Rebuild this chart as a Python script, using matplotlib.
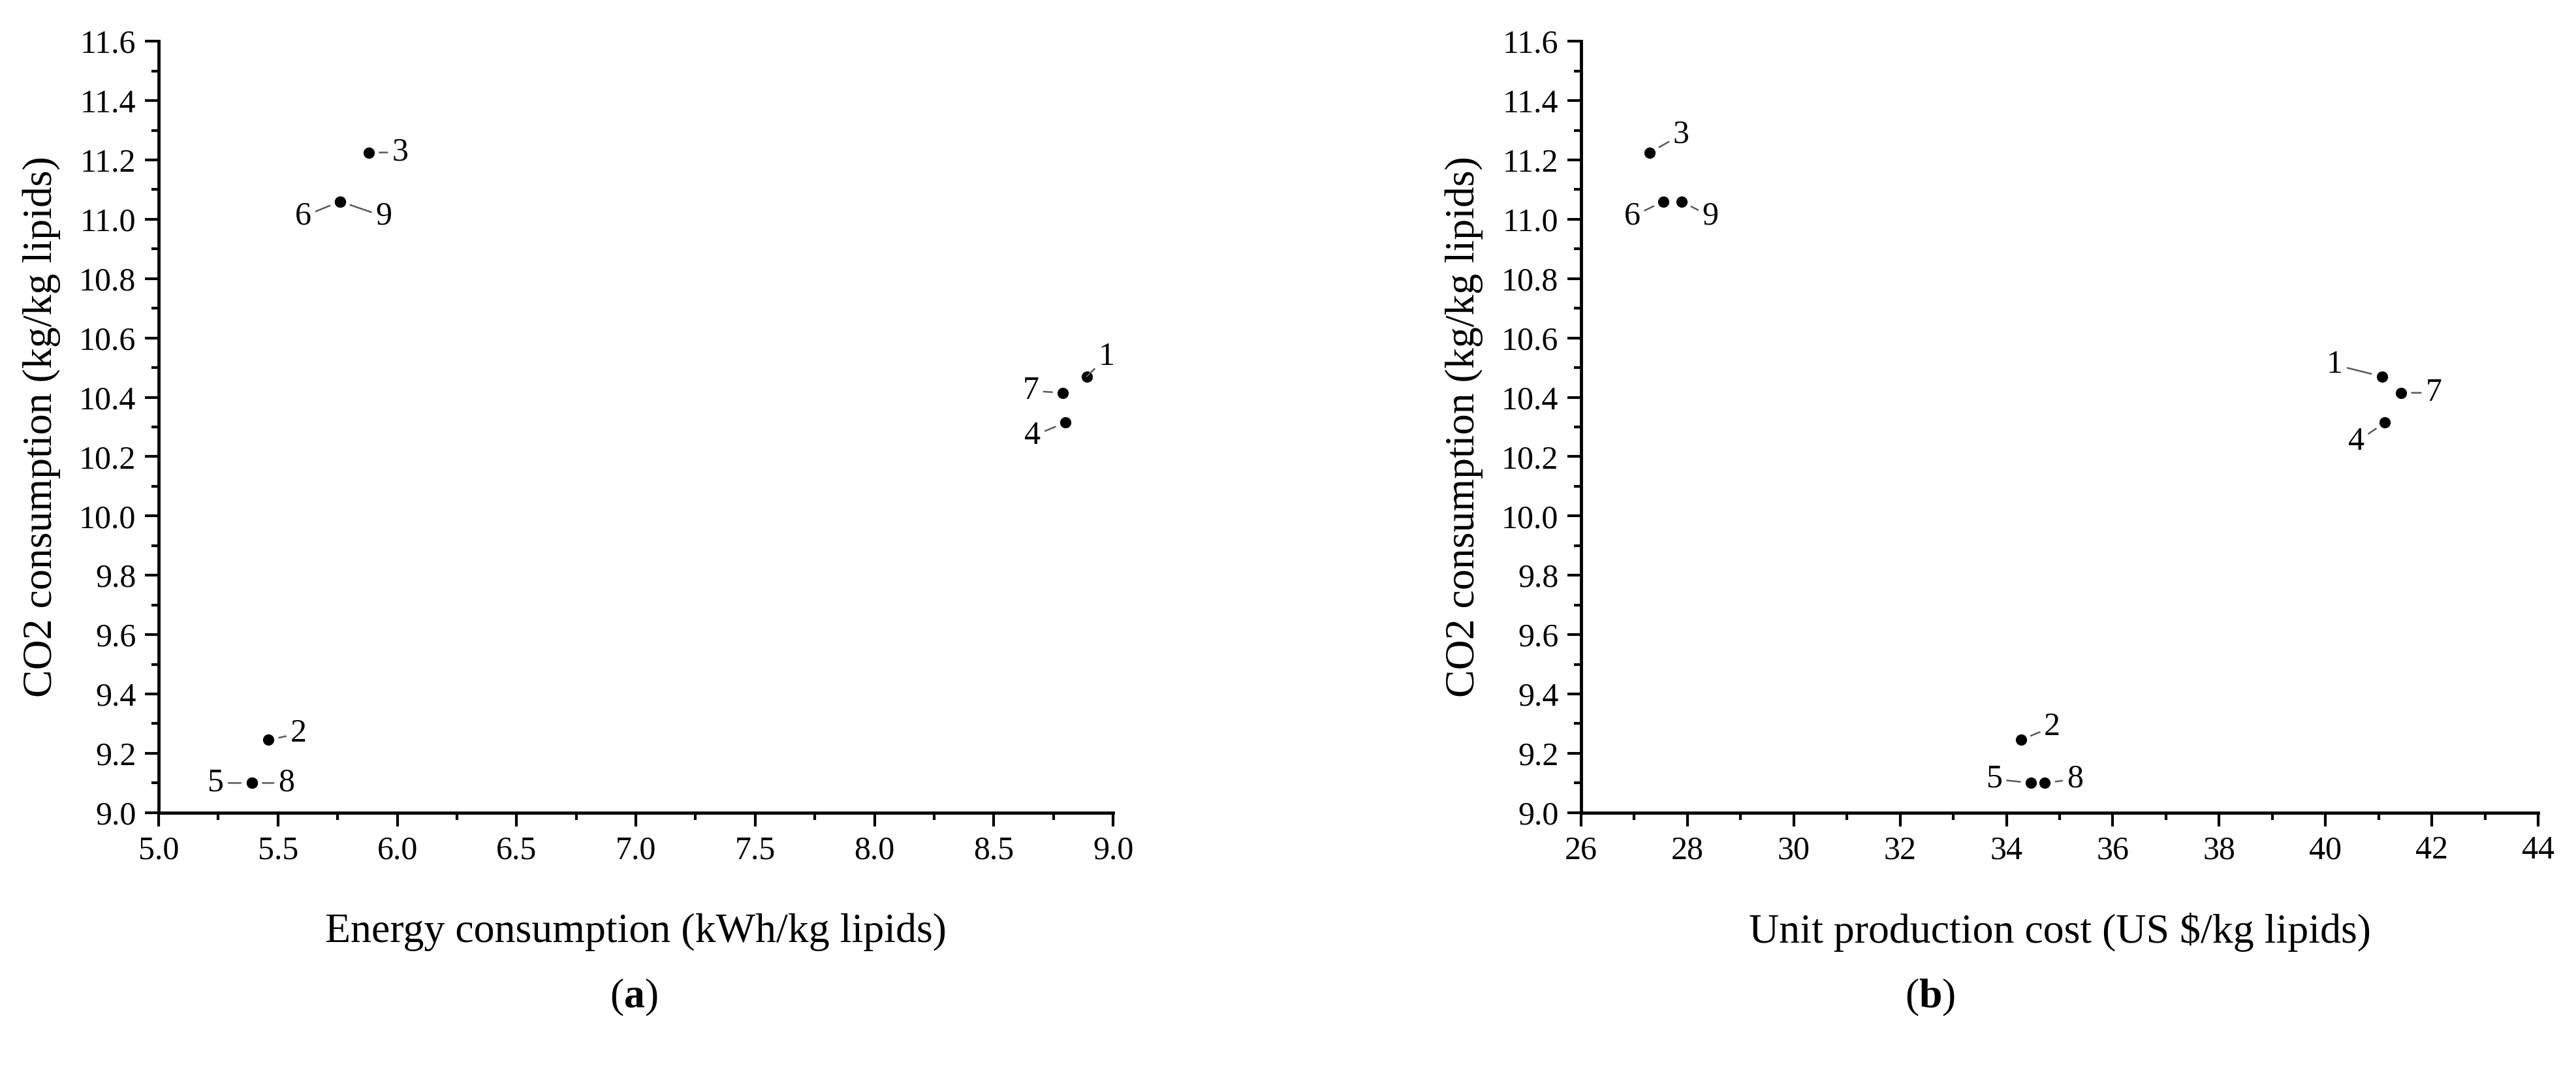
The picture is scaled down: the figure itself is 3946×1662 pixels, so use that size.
import matplotlib
matplotlib.use('Agg')
import matplotlib.pyplot as plt
from matplotlib.ticker import MultipleLocator

plt.rcParams['font.family'] = ['Liberation Serif', 'DejaVu Serif']
plt.rcParams['mathtext.fontset'] = 'custom'
plt.rcParams['mathtext.rm'] = 'Liberation Serif'
plt.rcParams['mathtext.bf'] = 'Liberation Serif:bold'

# Data
labels = ['1', '2', '3', '4', '5', '6', '7', '8', '9']
energy = [8.89, 5.46, 5.88, 8.80, 5.39, 5.76, 8.79, 5.39, 5.76]
cost = [41.06, 34.27, 27.29, 41.12, 34.46, 27.55, 41.42, 34.72, 27.89]
co2 = [10.47, 9.245, 11.225, 10.315, 9.10, 11.06, 10.415, 9.10, 11.06]

# label offsets in pixels (dx, dy), dy positive = up
offs_a = {'1': (30, 30), '2': (46, 10), '3': (48, 0), '4': (-50, -21), '5': (-55, 0),
          '6': (-56, -23), '7': (-49, 3), '8': (53, 0), '9': (67, -23)}
offs_b = {'1': (-72, 18), '2': (48, 20), '3': (48, 27), '4': (-44, -30), '5': (-56, 6),
          '6': (-48, -23), '7': (50, 0), '8': (46, 6), '9': (44, -23)}

fig = plt.figure(figsize=(39.46, 16.62), dpi=100)
ax1 = fig.add_axes([0.0616, 0.251, 0.3705, 0.711])
ax2 = fig.add_axes([0.6138, 0.251, 0.3715, 0.711])


def style(ax):
    for s in ['top', 'right']:
        ax.spines[s].set_visible(False)
    for s in ['left', 'bottom']:
        ax.spines[s].set_linewidth(3.5)
    ax.tick_params(which='major', length=15, width=3, labelsize=36, pad=10, colors='black')
    ax.tick_params(which='minor', length=8, width=3)
    ax.set_ylim(9.0, 11.6)
    ax.yaxis.set_major_locator(MultipleLocator(0.2))
    ax.yaxis.set_minor_locator(MultipleLocator(0.1))
    ax.yaxis.set_major_formatter('{x:.1f}')
    ax.set_ylabel('CO2 consumption (kg/kg lipids)', fontsize=46, labelpad=20)


def label_points(ax, xs, offs):
    for lab, x, y in zip(labels, xs, co2):
        ax.annotate(lab, (x, y), xytext=offs[lab], textcoords='offset pixels',
                    ha='center', va='center', fontsize=36,
                    arrowprops=dict(arrowstyle='-', color='0.35', lw=1.8, shrinkA=3, shrinkB=12))


# (a)
ax1.scatter(energy, co2, s=130, color='black', zorder=3, clip_on=False)
style(ax1)
ax1.set_xlim(5.0, 9.0)
ax1.xaxis.set_major_locator(MultipleLocator(0.5))
ax1.xaxis.set_minor_locator(MultipleLocator(0.25))
ax1.xaxis.set_major_formatter('{x:.1f}')
ax1.set_xlabel('Energy consumption (kWh/kg lipids)', fontsize=46, labelpad=52)
label_points(ax1, energy, offs_a)

# (b)
ax2.scatter(cost, co2, s=130, color='black', zorder=3, clip_on=False)
style(ax2)
ax2.set_xlim(26, 44)
ax2.xaxis.set_major_locator(MultipleLocator(2))
ax2.xaxis.set_minor_locator(MultipleLocator(1))
ax2.set_xlabel('Unit production cost (US $/kg lipids)', fontsize=46, labelpad=52)
label_points(ax2, cost, offs_b)

fig.text(971 / 3946, 1 - 1528 / 1662, r'($\mathbf{a}$)', fontsize=46, ha='center', va='center')
fig.text(2957 / 3946, 1 - 1528 / 1662, r'($\mathbf{b}$)', fontsize=46, ha='center', va='center')

fig.savefig('out.png', dpi=100)
